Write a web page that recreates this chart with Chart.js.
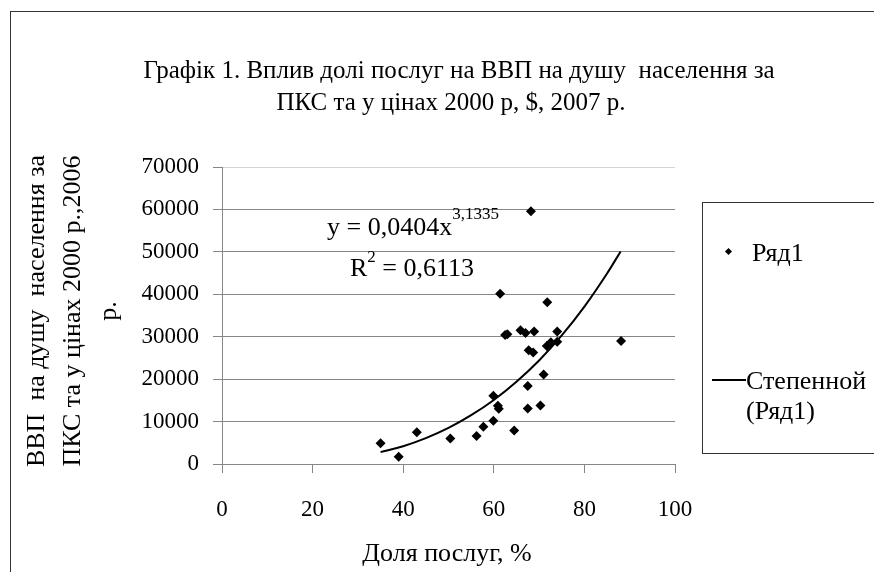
<!DOCTYPE html>
<html>
<head>
<meta charset="utf-8">
<script src="https://cdn.jsdelivr.net/npm/chart.js@4/dist/chart.umd.min.js"></script>
<style>
    html, body { margin: 0; padding: 0; background: #fff; overflow: hidden; }
    #wrap { position: relative; width: 874px; height: 572px; overflow: hidden; font-family: "Liberation Serif", "Times New Roman", serif; color: #000; }
    #chart { position: absolute; left: 0; top: 0; }
    .frame { position: absolute; left: 10px; top: 11px; width: 1000px; height: 1000px; border: 1px solid #333; }
    .title { position: absolute; font-size: 25px; line-height: 32px; white-space: pre; transform: translateX(-50%); }
    .ytitle { position: absolute; left: 72px; top: 311px; width: 420px; transform: translate(-50%, -50%) rotate(-90deg); text-align: center; font-size: 26px; line-height: 36px; white-space: pre; }
    .xtitle { position: absolute; left: 447px; top: 538px; transform: translateX(-50%); font-size: 26px; line-height: 30px; white-space: nowrap; }
    .eq { position: absolute; font-size: 26px; line-height: 30px; white-space: nowrap; }
    .eq sup { font-size: 17px; vertical-align: baseline; position: relative; }
    .legend { position: absolute; left: 702px; top: 202px; width: 300px; height: 250px; border: 1px solid #333; }
    .lg { position: absolute; font-size: 26px; white-space: nowrap; line-height: 30px; }
    .dia { position: absolute; width: 5px; height: 5px; background: #000; transform: rotate(45deg); }
    .ln { position: absolute; height: 2px; background: #000; }
</style>
</head>
<body>
<div id="wrap">
    <canvas id="chart" width="874" height="572"></canvas>
    <div class="frame"></div>
    <div class="title" style="left:459px; top:54px;">Графік 1. Вплив долі послуг на ВВП на душу  населення за</div>
    <div class="title" style="left:451px; top:86px;">ПКС та у цінах 2000 р, $, 2007 р.</div>
    <div class="ytitle">ВВП  на душу  населення за
ПКС та у цінах 2000 р.,2006
р.</div>
    <div class="xtitle">Доля послуг, %</div>
    <div class="eq" style="left:327px; top:212px;">y = 0,0404x<sup style="top:-16px;">3,1335</sup></div>
    <div class="eq" style="left:350px; top:253px;">R<sup style="top:-14px;">2</sup> = 0,6113</div>
    <div class="legend"></div>
    <div class="dia" style="left:726px; top:249px;"></div>
    <div class="lg" style="left:752px; top:238px;">Ряд1</div>
    <div class="ln" style="left:712px; top:379px; width:34px;"></div>
    <div class="lg" style="left:746px; top:366px;">Степенной<br>(Ряд1)</div>
</div>
<script>
// services share, % (x) and GDP per capita (y)
const shareX = [35, 39, 43, 50.4, 56.2, 57.7, 59.9, 59.9, 60.9, 61.1, 64.5, 62.5, 63.0, 65.9, 67.0,
                68.9, 67.7, 68.7, 67.5, 67.5, 70.3, 71.0, 71.7, 72.6, 74.0, 74.0, 68.2, 61.4, 71.8, 88.1];
const gdpY = [4900, 1700, 7500, 6000, 6600, 8800, 10200, 16100, 13700, 13000, 7900, 30400, 30600, 31500, 30900,
              31200, 26800, 26300, 18400, 13100, 13800, 21100, 27800, 28700, 28800, 31200, 59600, 40100, 38100, 29000];

// power trend line (Степенной)
const trendX = [35, 40, 45, 50, 55, 60, 65, 70, 75, 80, 85, 88];
const trendY = [2800, 4200, 6100, 8500, 11500, 15100, 19400, 24400, 30300, 37100, 44900, 50100];

const xMin = 0, xMax = 100, xStep = 20;
const yMin = 0, yMax = 70000, yStep = 10000;

const font = { family: 'Liberation Serif', size: 23 };
const gridGray = '#868686';

new Chart(document.getElementById('chart'), {
    type: 'scatter',
    data: {
        datasets: [
            {
                label: 'Ряд1',
                data: shareX.map((x, i) => ({ x, y: gdpY[i] })),
                pointStyle: 'rectRot',
                pointRadius: 5,
                backgroundColor: '#000',
                borderWidth: 0
            },
            {
                label: 'Степенной (Ряд1)',
                data: trendX.map((x, i) => ({ x, y: trendY[i] })),
                showLine: true,
                pointRadius: 0,
                borderColor: '#000',
                borderWidth: 2,
                cubicInterpolationMode: 'monotone'
            }
        ]
    },
    options: {
        responsive: false,
        animation: false,
        layout: { padding: { left: 92, top: 167, right: 199, bottom: 28 } },
        plugins: { legend: { display: false }, tooltip: { enabled: false } },
        scales: {
            x: {
                type: 'linear', min: xMin, max: xMax,
                afterFit: s => { s.height = 80; },
                grid: { drawOnChartArea: false, color: gridGray, tickLength: 9 },
                border: { color: gridGray },
                ticks: { stepSize: xStep, color: '#000', font, padding: 23 }
            },
            y: {
                min: yMin, max: yMax,
                afterFit: s => { s.width = 130; },
                grid: { color: c => c.tick && c.tick.value === yMax ? '#d4d4d4' : gridGray, tickColor: gridGray, tickLength: 9 },
                border: { color: gridGray },
                ticks: { stepSize: yStep, color: '#000', font, padding: 14, callback: v => String(v) }
            }
        }
    }
});
</script>
</body>
</html>
